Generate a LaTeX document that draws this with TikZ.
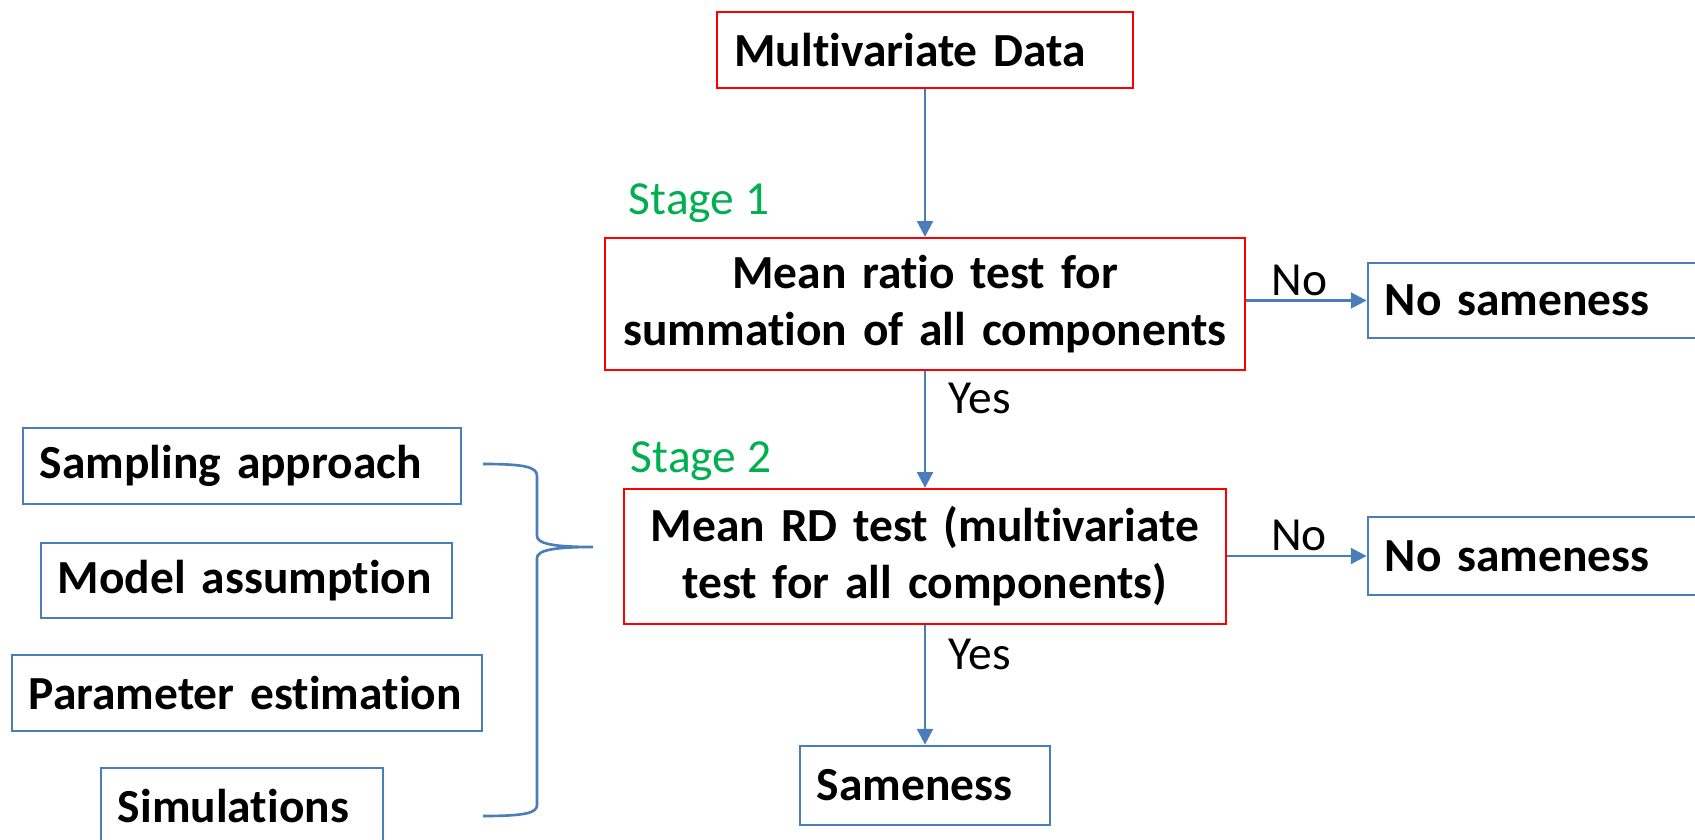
\documentclass[tikz,border=0pt]{standalone}
\usepackage{fontspec}
\setmainfont{Carlito}[Ligatures={NoCommon,NoContextual}, Contextuals=NoAlternate]
\usetikzlibrary{arrows.meta}
\definecolor{linkblue}{HTML}{4A7EBB}
\definecolor{stagegreen}{HTML}{00B050}
\newcommand{\flowfont}{\fontsize{13.5pt}{16.2pt}\selectfont}

\begin{document}
\begin{tikzpicture}[
  x=0.01cm, y=-0.01cm,
  test/.style={rectangle, draw=red, line width=0.6pt, font=\flowfont\bfseries,
               inner xsep=0.1cm, inner ysep=0pt, align=center},
  choice/.style={rectangle, draw=linkblue, line width=0.75pt, font=\flowfont\bfseries,
                 inner xsep=0.17cm, inner ysep=0pt, align=left},
  stage/.style={font=\flowfont, text=stagegreen},
  answer/.style={font=\flowfont, text=black, inner sep=1pt},
  arrow/.style={-{Triangle[length=4.5pt, width=4.5pt]}, linkblue, line width=0.75pt},
  brace/.style={linkblue, line width=0.75pt}
]
\useasboundingbox (0,0) rectangle (1695,840);

% Main column
\node[choice, draw=red, line width=0.6pt, text width=3.81cm, minimum height=0.76cm]
      (data) at (925,50) {Multivariate Data};
\node[stage] (stage1) at (699,203) {Stage 1};
\node[test, text width=6.2cm, minimum height=1.32cm] (ratio) at (925,304)
      {Mean ratio test for\\summation of all components};
\node[stage] (stage2) at (701,461) {Stage 2};
\node[test, text width=5.82cm, minimum height=1.35cm] (rd) at (925,556.5)
      {Mean RD test (multivariate\\test for all components)};
\node[choice, text width=2.16cm, minimum height=0.79cm] (same) at (925,785.5) {Sameness};

% Rejection outcomes
\node[choice, text width=3.26cm, minimum height=0.75cm] (nosame1) at (1548,300.5) {No sameness};
\node[choice, text width=3.26cm, minimum height=0.78cm] (nosame2) at (1548,556) {No sameness};

% Choices behind the RD test
\node[choice, text width=4.04cm, minimum height=0.76cm] (sampling) at (242,466) {Sampling approach};
\node[choice, text width=3.77cm, minimum height=0.75cm] (model) at (246.5,580.5) {Model assumption};
\node[choice, text width=4.36cm, minimum height=0.76cm] (param) at (247,693) {Parameter estimation};
\node[choice, text width=2.48cm, minimum height=0.76cm] (sim) at (242,806) {Simulations};

% Flow
\draw[arrow] (data) -- (ratio);
\draw[arrow] (ratio) -- node[answer, pos=0.235, right=0.19cm] (yes1) {Yes} (rd);
\draw[arrow] (rd) -- node[answer, pos=0.246, right=0.19cm] (yes2) {Yes} (same);
\draw[arrow] (ratio.east |- nosame1.west) -- node[answer, pos=0.44, above] (no1) {No} (nosame1.west);
\draw[arrow] (rd.east |- nosame2.west) -- node[answer, pos=0.515, above] (no2) {No} (nosame2.west);

% Brace
\draw[brace] (483,464) .. controls (525,464) and (537,467) .. (537,476) -- (537,536)
  .. controls (537,544) and (555,547) .. (593,547)
  .. controls (555,547) and (537,550) .. (537,558) -- (537,805)
  .. controls (537,813) and (525,816) .. (483,816);

\end{tikzpicture}
\end{document}
